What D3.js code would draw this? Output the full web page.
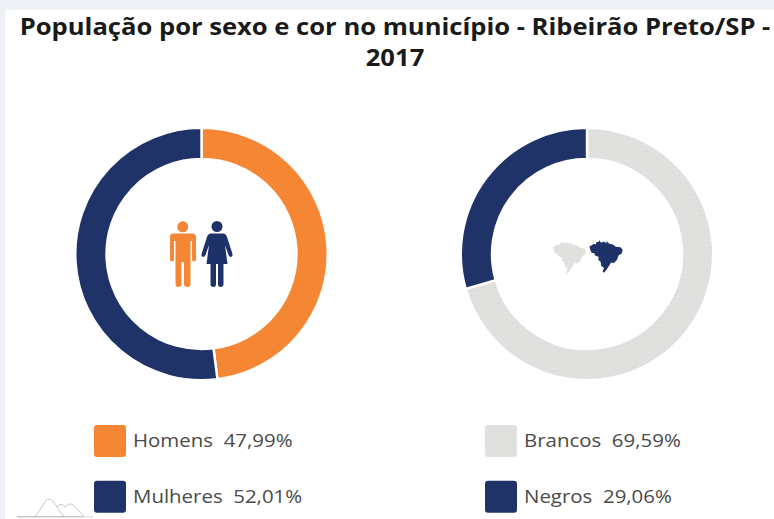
<!DOCTYPE html>
<html><head><meta charset="utf-8">
<style>html,body{margin:0;padding:0;background:#fff;overflow:hidden}svg{display:block}</style>
<script src="https://cdn.jsdelivr.net/npm/d3@7"></script></head>
<body><svg id="c" width="774" height="519"></svg>
<script>
const titleLines = ["População por sexo e cor no município - Ribeirão Preto/SP -", "2017"];
const sexCategories = ["Homens", "Mulheres"];
const sexValues = [47.99, 52.01];
const sexLabels = ["47,99%", "52,01%"];
const colorCategories = ["Brancos", "Negros"];
const colorValues = [69.59, 29.06];
const colorLabels = ["69,59%", "29,06%"];

const ORANGE = "#f58634", NAVY = "#1f3369", GREY = "#e0e0de";
const svg = d3.select("#c");
const defs = svg.append("defs");
const pat = defs.append("pattern").attr("id", "dots").attr("width", 4).attr("height", 4).attr("patternUnits", "userSpaceOnUse");
pat.append("rect").attr("width", 4).attr("height", 4).attr("fill", GREY);
pat.append("circle").attr("cx", 1).attr("cy", 1).attr("r", .6).attr("fill", "#d8d8d6");
pat.append("circle").attr("cx", 3).attr("cy", 3).attr("r", .6).attr("fill", "#e8e8e6");
defs.append("filter").attr("id", "soft").append("feGaussianBlur").attr("stdDeviation", .45);

// page background
svg.append("rect").attr("width", 774).attr("height", 519).attr("fill", "#eef2f6");
svg.append("rect").attr("x", 5).attr("y", 10).attr("width", 769).attr("height", 509).attr("fill", "#fff");

svg.append("g").selectAll("text").data(titleLines).join("text")
  .attr("transform", (d, i) => `translate(395,${35 + i * 31}) scale(1.067,1)`)
  .attr("text-anchor", "middle")
  .attr("font-family", "'Open Sans'").attr("font-weight", 700).attr("font-size", 24).attr("fill", "#1a1a1a")
  .text(d => d);

const pie = d3.pie().sort(null);
const arc = d3.arc().innerRadius(95).outerRadius(126.2);
function donut(cx, cy, values, fills) {
  svg.append("g").attr("transform", `translate(${cx},${cy})`)
    .selectAll("path").data(pie(values)).join("path")
    .attr("d", arc).attr("fill", (d, i) => fills[i])
    .attr("stroke", "#fff").attr("stroke-width", 2.4);
}
donut(201.5, 254, sexValues, [ORANGE, NAVY]);
donut(587, 254, colorValues, ["url(#dots)", NAVY]);

function legend(x, names, labels, fills) {
  const g = svg.append("g").selectAll("g").data(names).join("g")
    .attr("transform", (d, i) => `translate(${x},${425 + i * 55.7})`);
  g.append("rect").attr("width", 32).attr("height", 32).attr("rx", 3).attr("fill", (d, i) => fills[i]);
  g.append("text").attr("transform", "translate(39,22.3) scale(1.136,1)")
    .attr("font-family", "'Open Sans'").attr("font-size", 18).attr("fill", "#4a4a4a")
    .style("white-space", "pre")
    .text((d, i) => d + "  " + labels[i]);
}
legend(94, sexCategories, sexLabels, [ORANGE, NAVY]);
legend(485, colorCategories, colorLabels, ["url(#dots)", NAVY]);

// pictograms
const icons = svg.append("g").attr("filter", "url(#soft)");
icons.append("circle").attr("cx", 182.8).attr("cy", 226.8).attr("r", 5.5).attr("fill", ORANGE);
icons.append("path").attr("fill", ORANGE).attr("d",
  "M173,233.5H192.5Q196,233.5 196,237V259.5Q196,261.5 194,261.5Q192,261.5 192,259.5V241H190.5V284Q190.5,287 187.5,287Q184,287 184,284V262H181.5V284Q181.5,287 178.5,287Q175.5,287 175.5,284V241H174V259.5Q174,261.5 172,261.5Q170,261.5 170,259.5V237Q170,233.5 173,233.5Z");
icons.append("circle").attr("cx", 217).attr("cy", 226.5).attr("r", 5.5).attr("fill", NAVY);
icons.append("path").attr("fill", NAVY).attr("d",
  "M211,233.5H223Q226,233.5 227,237L232.5,254Q233,256.5 231,257Q229.5,257 228.5,255L225,245L227.5,264H223.5V284Q223.5,287 220.5,287Q218,287 218,284V264H216V284Q216,287 213.5,287Q210.5,287 210.5,284V264H206.5L209,245L205.5,255Q204.5,257 203,257Q201,256.5 201.5,254L207,237Q208,233.5 211,233.5Z");

const brazil = "M0,13 L4,11 L6,9 L9,10 L10,6 L13,6 L14,3 L17,7 L20,5 L25,8 L24,4 L29,9 L34,10 L38,14 L45,15 L48,19 L47,25 L42,29 L40,36 L36,41 L31,41 L28,47 L24,54 L21,58 L19,56 L21,50 L17,46 L16,39 L13,37 L13,31 L8,29 L7,25 L3,24 L1,19 Z";
icons.append("path").attr("d", brazil).attr("fill", "#e0e0de").attr("transform", "translate(553,239.5) scale(.69,.58)");
icons.append("path").attr("d", brazil).attr("fill", NAVY).attr("transform", "translate(589.5,238.5) scale(.69,.59)");

// small hills mark in the bottom-left corner
const hills = svg.append("g").attr("fill", "none").attr("stroke", "#c8c8c8");
hills.append("path").attr("stroke-width", 1.6).attr("d", "M17,516.7H83");
hills.append("path").attr("stroke", "#e2e2e2").attr("stroke-width", 1.4).attr("d", "M83,516.7H93");
hills.append("path").attr("d", "M35,516C42,510 44,499 49,499C54,499 58,511 64,516");
hills.append("path").attr("d", "M57,507C60,503 62,504 65,507C68,504 70,503 73,505C77,508 80,513 84,516");
</script></body></html>
